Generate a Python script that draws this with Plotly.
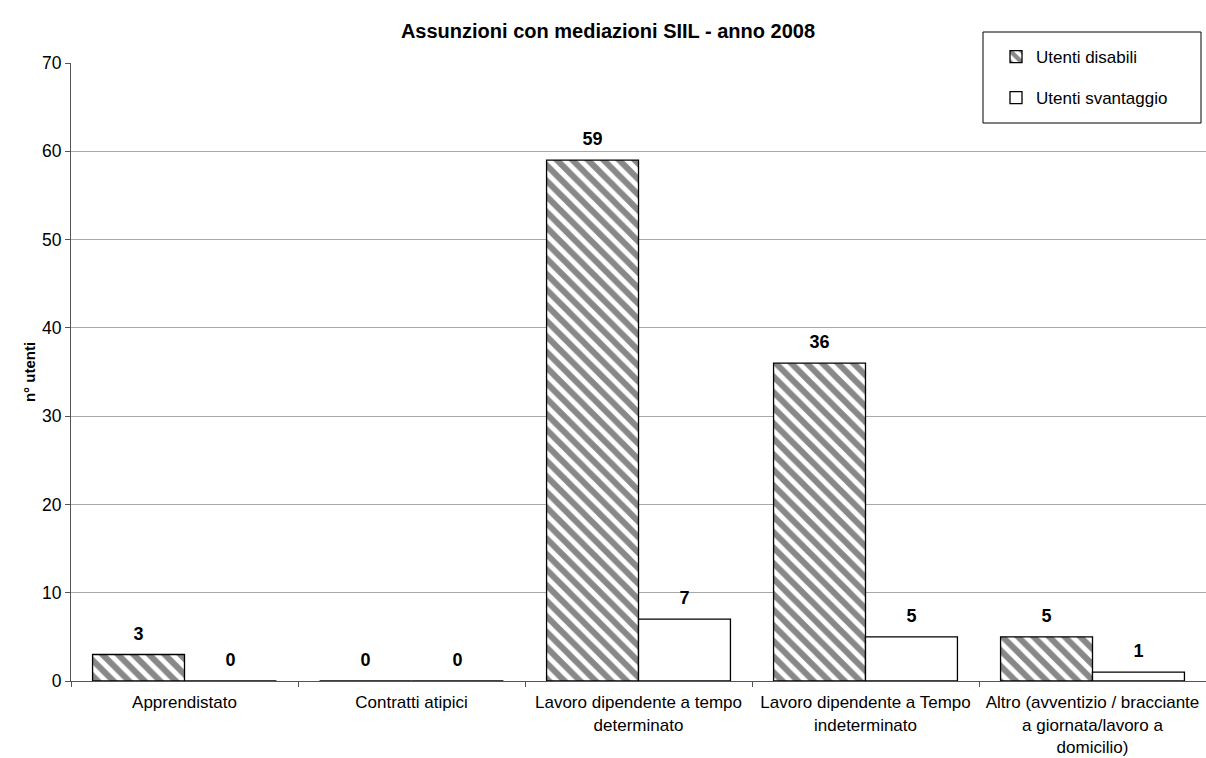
import plotly.graph_objects as go

categories = [
    "Apprendistato",
    "Contratti atipici",
    "Lavoro dipendente a tempo<br>determinato",
    "Lavoro dipendente a Tempo<br>indeterminato",
    "Altro (avventizio / bracciante<br>a giornata/lavoro a<br>domicilio)",
]
disabili = [3, 0, 59, 36, 5]
svantaggio = [0, 0, 7, 5, 1]
series_names = ["Utenti disabili", "Utenti svantaggio"]
title_text = "<b>Assunzioni con mediazioni SIIL - anno 2008</b>"
y_title = "<b>n° utenti</b>"
y_ticks = [0, 10, 20, 30, 40, 50, 60, 70]

FONT = "Liberation Sans, Arial, sans-serif"
W, H = 1206, 758
L, R, T, B = 71, 0, 63, 77
PW = W - L - R
PH = H - T - B
GAP = 0.19

fig = go.Figure()
fig.add_trace(go.Bar(
    x=categories, y=disabili, name=series_names[0], legendgroup="a",
    offsetgroup="g1", alignmentgroup="A",
    marker=dict(color="white", line=dict(color="black", width=1.3),
                pattern=dict(shape="\\", fgcolor="#111111", bgcolor="white",
                             size=11, solidity=0.55)),
))
fig.add_trace(go.Bar(
    x=categories, y=svantaggio, name=series_names[1], legendgroup="b",
    offsetgroup="g2", alignmentgroup="A",
    marker=dict(color="white", line=dict(color="black", width=1.3)),
))

# value labels (invisible markers give the gap above the bars)
for vals, grp in ((disabili, "g1"), (svantaggio, "g2")):
    fig.add_trace(go.Scatter(
        x=categories, y=vals, mode="markers+text", offsetgroup=grp, alignmentgroup="A",
        text=[f"<b>{v}</b>" for v in vals], textposition="top center",
        textfont=dict(family=FONT, size=18, color="black"),
        marker=dict(size=15, color="rgba(0,0,0,0)"),
        showlegend=False, hoverinfo="skip", cliponaxis=False,
    ))

# legend border box
fig.add_shape(type="rect", xref="paper", yref="paper",
              x0=(983 - L) / PW, x1=(1201 - L) / PW,
              y0=(H - B - 123) / PH, y1=(H - B - 32) / PH,
              line=dict(color="black", width=1), fillcolor="rgba(0,0,0,0)", layer="below")

fig.update_layout(
    width=W, height=H,
    margin=dict(l=L, r=R, t=T, b=B, autoexpand=False),
    paper_bgcolor="white", plot_bgcolor="white",
    font=dict(family=FONT, size=18, color="black"),
    title=dict(text=title_text, x=608 / W, xref="container", xanchor="center",
               y=1 - 31 / H, yref="container", yanchor="middle", font=dict(size=20)),
    barmode="group", bargap=GAP, bargroupgap=0,
    scattermode="group", scattergap=GAP,
    showlegend=True,
    legend=dict(x=(996 - L) / PW, y=(H - B - 39) / PH, xanchor="left", yanchor="top",
                borderwidth=0, bgcolor="rgba(0,0,0,0)",
                font=dict(size=17), traceorder="grouped", tracegroupgap=16,
                itemwidth=30),
    xaxis=dict(showline=True, linecolor="#555555", linewidth=1,
               ticks="outside", tickson="boundaries", ticklen=5, tickcolor="#555555",
               showgrid=False, tickfont=dict(size=17), tickangle=0, automargin=False,
               ticklabelstandoff=6),
    yaxis=dict(range=[0, 70], tickvals=y_ticks, showline=True, linecolor="#555555",
               linewidth=1, ticks="outside", ticklen=5, tickcolor="#555555",
               showgrid=True, gridcolor="#a8a8a8", gridwidth=1,
               zeroline=False, tickfont=dict(size=17.5), automargin=False,
               title=dict(text=y_title, font=dict(size=15), standoff=2)),
)

fig.write_html("out.html", config={"displayModeBar": False},
               post_script="document.body.style.margin='0';")
